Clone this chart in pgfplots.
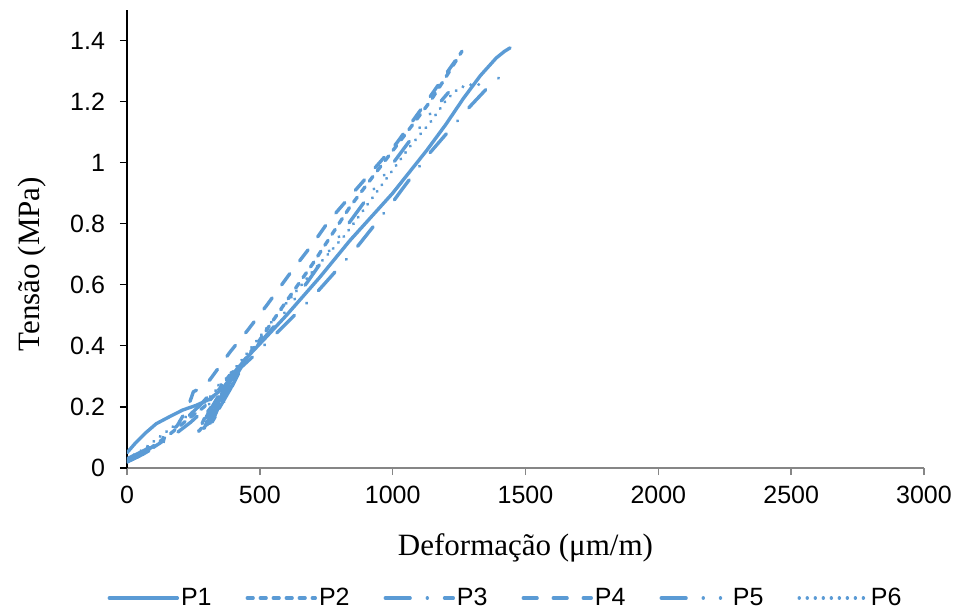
\documentclass[border=0pt]{standalone}
\usepackage{pgfplots}
\pgfplotsset{compat=1.18}
\usepackage{fontspec}
\setmainfont{Liberation Sans}
\newfontfamily\timesf{Liberation Serif}
\definecolor{xlblue}{RGB}{91,155,213}
\definecolor{axgray}{RGB}{134,134,134}
\begin{document}
\begin{tikzpicture}
\begin{axis}[
  name=ax,
  scale only axis,
  width=398.5pt, height=229pt,
  xmin=0, xmax=3000, ymin=0, ymax=1.5,
  xtick={0,500,...,3000},
  ytick={0,0.2,0.4,0.6,0.8,1,1.2,1.4},
  axis x line=bottom, axis y line=left,
  x axis line style={-, draw=axgray, line width=0.8pt},
  y axis line style={-, draw=black, line width=0.6pt},
  tick align=outside,
  major tick length=3.5pt,
  xtick style={draw=axgray, line width=0.8pt},
  ytick style={draw=black, line width=0.6pt},
  minor tick num=0,
  scaled ticks=false,
  /pgf/number format/1000 sep={},
  /pgf/number format/assume math mode=true,
  tick label style={font=\fontsize{12.5}{14}\selectfont},
  yticklabel style={xshift=-4pt},
  xticklabel style={yshift=-2pt},
  xlabel={\timesf Deformação (μm/m)},
  ylabel={\timesf Tensão (MPa)},
  x label style={at={(axis description cs:0.5,-0.175)}, anchor=center, font=\fontsize{15.5}{18}\selectfont},
  y label style={at={(axis description cs:-0.119,0.445)}, anchor=center, rotate=0, font=\fontsize{15.5}{18}\selectfont},
  legend columns=6,
  legend style={draw=none, at={(0.475,-0.284)}, anchor=center,
    font=\fontsize{12.5}{14}\selectfont,
    /tikz/every even column/.append style={column sep=16pt},
    nodes={inner sep=1pt}},
  legend image code/.code={\draw[#1] (0pt,0pt) -- (34pt,0pt);},
  every axis plot/.append style={color=xlblue, line width=1.7pt, line cap=round, line join=round, mark=none},
]
\addplot[] table {
0 0.05
30 0.08
70 0.115
110 0.145
160 0.168
210 0.19
260 0.205
310 0.225
360 0.26
410 0.32
460 0.37
520 0.425
600 0.5
726 0.625
839 0.745
1000 0.9
1128 1.04
1200 1.125
1266 1.21
1330 1.285
1390 1.343
1420 1.364
1442 1.376
};
\addlegendentry{P1}
\addplot[dash pattern=on 2.9pt off 3.6pt] table {
0 0.02
80 0.06
160 0.11
230 0.16
290 0.2
340 0.25
400 0.32
370 0.25
310 0.16
270 0.12
300 0.18
360 0.25
415 0.32
395 0.27
340 0.2
290 0.13
340 0.22
400 0.3
430 0.34
500 0.42
587 0.53
700 0.67
839 0.855
926 0.955
1054 1.1
1141 1.2
1200 1.28
1261 1.365
};
\addlegendentry{P2}
\addplot[dash pattern=on 12.4pt off 8.6pt on 0.01pt off 8.6pt] table {
0 0.02
60 0.045
132 0.082
192 0.118
240 0.15
290 0.19
340 0.24
390 0.29
350 0.22
300 0.14
330 0.2
395 0.29
420 0.31
380 0.24
320 0.15
360 0.23
430 0.33
480 0.37
583 0.459
700 0.561
858 0.715
1002 0.873
1040 0.918
1134 1.026
1291 1.184
1360 1.248
1400 1.278
};
\addlegendentry{P3}
\addplot[dash pattern=on 6.9pt off 8.1pt] table {
0 0.02
60 0.045
130 0.085
190 0.14
230 0.2
250 0.25
275 0.26
312 0.289
388 0.38
455 0.452
527 0.534
620 0.645
700 0.735
758 0.807
865 0.915
1015 1.064
1128 1.2
1200 1.29
1245 1.345
};
\addlegendentry{P4}
\addplot[dash pattern=on 12.4pt off 8.6pt on 0.01pt off 8.6pt on 0.01pt off 8.6pt] table {
0 0.03
70 0.06
150 0.11
220 0.16
280 0.21
330 0.26
380 0.3
410 0.33
380 0.27
320 0.18
285 0.12
300 0.17
340 0.23
400 0.3
420 0.32
390 0.26
330 0.17
295 0.12
330 0.2
380 0.26
425 0.33
460 0.37
560 0.47
680 0.61
800 0.76
926 0.91
1054 1.06
1141 1.16
1210 1.23
};
\addlegendentry{P5}
\addplot[dash pattern=on 0.01pt off 4pt] table {
0 0.03
60 0.06
120 0.1
180 0.14
240 0.18
300 0.22
360 0.28
420 0.34
500 0.43
600 0.54
700 0.645
822 0.764
965 0.934
1065 1.053
1140 1.13
1203 1.207
1250 1.245
1290 1.255
1329 1.256
};
\addlegendentry{P6}
\end{axis}
\pgfresetboundingbox
\path ([xshift=-63.5pt,yshift=-71.5pt]ax.south west) rectangle ([xshift=17.5pt,yshift=5pt]ax.north east);
\end{tikzpicture}
\end{document}
